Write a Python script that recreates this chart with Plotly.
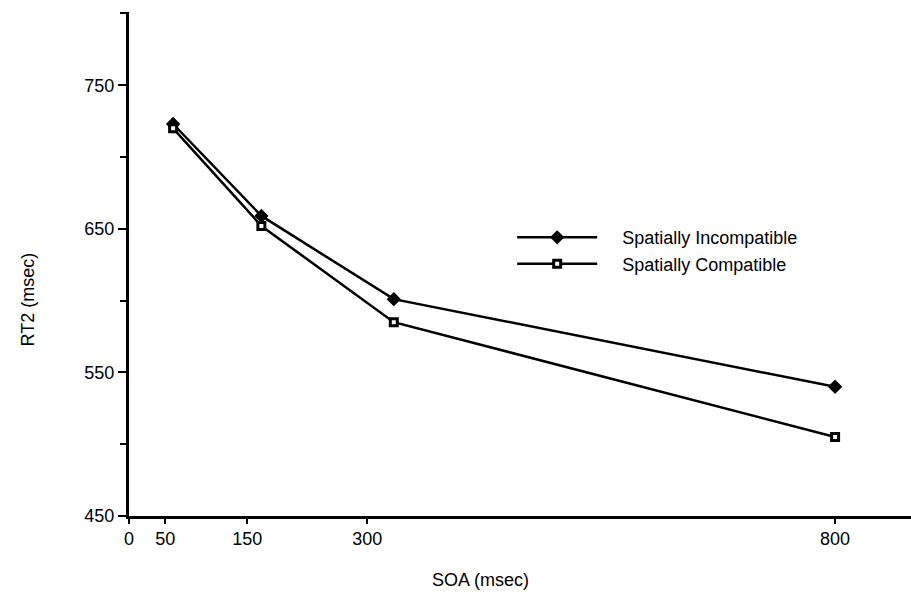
import plotly.graph_objects as go

soa = [50, 150, 300, 800]
incompatible = [723, 659, 601, 540]
compatible = [720, 652, 585, 505]

x_tick_pos = [0, 41, 134, 270, 800]
x_tick_text = ["0", "50", "150", "300", "800"]
y_tick_vals = [450, 550, 650, 750]
y_minor_vals = [500, 600, 700, 800]

FONT = "Liberation Sans, Arial, Helvetica, sans-serif"
PAD = "\u00a0" * 4

fig = go.Figure()
fig.add_trace(go.Scatter(
    x=soa, y=incompatible, mode="lines+markers", name=PAD + "Spatially Incompatible",
    line=dict(color="black", width=2.5),
    marker=dict(symbol="diamond", size=11, color="black"),
))
fig.add_trace(go.Scatter(
    x=soa, y=compatible, mode="lines+markers", name=PAD + "Spatially Compatible",
    line=dict(color="black", width=2.5),
    marker=dict(symbol="square", size=7, color="white", line=dict(color="black", width=3)),
))

fig.update_layout(
    width=911, height=597,
    margin=dict(l=129, r=0, t=12, b=81),
    paper_bgcolor="white", plot_bgcolor="white",
    font=dict(family=FONT, size=18, color="black"),
    showlegend=True,
    legend=dict(
        x=0.49, y=0.589, xanchor="left", yanchor="top",
        bgcolor="rgba(0,0,0,0)", itemwidth=80,
        font=dict(size=18), tracegroupgap=0,
    ),
    xaxis=dict(
        range=[0, 886], showgrid=False, zeroline=False,
        showline=True, linecolor="black", linewidth=2.5,
        tickmode="array", tickvals=x_tick_pos, ticktext=x_tick_text,
        ticks="outside", ticklen=5, tickwidth=2, tickcolor="black",
        tickfont=dict(size=18),
    ),
    yaxis=dict(
        range=[450, 801], showgrid=False, zeroline=False,
        showline=True, linecolor="black", linewidth=3,
        tickmode="array", tickvals=y_tick_vals,
        ticks="outside", ticklen=8, tickwidth=2, tickcolor="black",
        tickfont=dict(size=18),
        minor=dict(tickmode="array", tickvals=y_minor_vals, ticks="outside",
                   ticklen=6, tickwidth=2, tickcolor="black", showgrid=False),
    ),
    annotations=[
        dict(text="SOA (msec)", xref="paper", yref="paper", x=0.449, y=-0.127,
             xanchor="center", yanchor="middle", showarrow=False, font=dict(size=18)),
        dict(text="RT2 (msec)", xref="paper", yref="paper", x=-0.129, y=0.43,
             xanchor="center", yanchor="middle", textangle=-90, showarrow=False,
             font=dict(size=18)),
    ],
)

fig.write_html("out.html")
